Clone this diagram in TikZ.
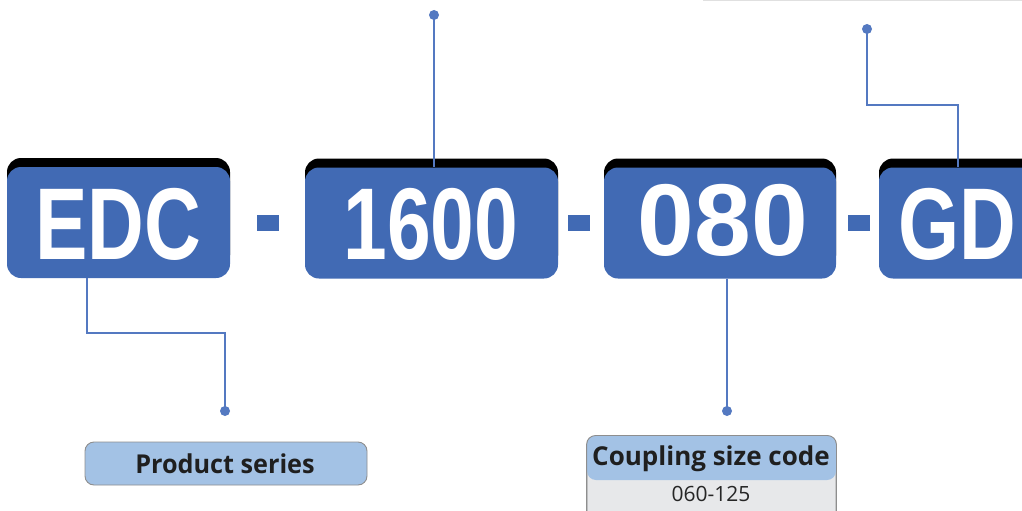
\documentclass[tikz,border=0pt]{standalone}
\usepackage{fontspec}
\usepackage{graphicx}
\setmainfont{Open Sans}
\newfontfamily\bigfont{Liberation Sans Bold}
\usetikzlibrary{shadows}
\definecolor{boxblue}{HTML}{416AB4}
\definecolor{connblue}{HTML}{5479C1}
\definecolor{lblue}{HTML}{A3C2E5}
\definecolor{lgray}{HTML}{E7E8EA}
\definecolor{bordergray}{HTML}{8E8E8E}
\tikzset{
  codebox/.style={rectangle, rounded corners=14pt, fill=boxblue, inner sep=0pt,
    minimum height=111pt, text=white,
    drop shadow={shadow xshift=0pt, shadow yshift=9pt, opacity=1, fill=black}},
  codetext/.style={font=\bigfont\fontsize{102}{102}\selectfont},
  dashbox/.style={rectangle, fill=boxblue, inner sep=0pt, minimum width=22pt, minimum height=16pt},
  conn/.style={draw=connblue, line width=2.4pt},
  dotmark/.style={circle, fill=connblue, inner sep=0pt, minimum size=10pt},
  labelbox/.style={rectangle, rounded corners=9pt, draw=bordergray, line width=0.9pt, inner sep=0pt},
  labeltext/.style={font=\bfseries\fontsize{26}{26}\selectfont, text=black!88},
}
\begin{document}
\begin{tikzpicture}[x=1pt,y=-1pt]
\clip (0,0) rectangle (1022,511);
\fill[white] (0,0) rectangle (1022,511);
% faint top-right line
\draw[draw=black!12, line width=1.5pt] (703,0.5) -- (1022,0.5);
% code boxes
\node[codebox, minimum width=223pt] (EDC) at (118.5,222.5) {};
\node[codetext, text=white] (tEDC) at (118.5,224) {\scalebox{0.77}[1]{EDC}};
\node[codebox, minimum width=253pt] (N1600) at (431.5,223) {};
\node[codetext, text=white] (t1600) at (431,224) {\scalebox{0.77}[1]{1600}};
\node[codebox, minimum width=232pt] (N080) at (720,223) {};
\node[codetext, text=white] (t080) at (723,220) {\scalebox{1.0}[1]{080}};
\node[codebox, minimum width=158pt] (NGD) at (958,223) {};
\node[codetext, text=white] (tGD) at (957,224) {\scalebox{0.77}[1]{GD}};
% dashes
\node[dashbox] (s1) at (268,223) {};
\node[dashbox] (s2) at (579,223) {};
\node[dashbox] (s3) at (859,223) {};
% dots
\node[dotmark] (d1) at (225,411) {};
\node[dotmark] (d2) at (434,15) {};
\node[dotmark] (d3) at (727,411) {};
\node[dotmark] (d4) at (867,29) {};
\coordinate (b1) at (87,333);
\coordinate (b4) at (867,105);
% connectors
\draw[conn] (b1 |- EDC.south) -- (b1) -| (d1.center);
\draw[conn] (d2.center) -- (d2 |- N1600.north);
\draw[conn] (d3 |- N080.south) -- (d3.center);
\draw[conn] (d4.center) -- (b4) -| (NGD.north);
% label boxes
\node[labelbox, fill=lblue, minimum width=282pt, minimum height=43pt] (ps) at (226,463.5) {};
\node[labeltext] (pst) at (225,464) {\scalebox{0.97}[1]{Product series}};
\node[labelbox, fill=lgray, minimum width=249pt, minimum height=100pt, anchor=north] (cs) at (711.5,435.5) {};
\begin{scope}
\clip[rounded corners=9pt] (587,435.5) rectangle (836,540);
\fill[lblue, rounded corners=9pt] (587,435.5) rectangle (836,480);
\end{scope}
\draw[draw=bordergray, line width=0.9pt, rounded corners=9pt] (cs.north west) rectangle (cs.south east);
\node[labeltext] (cst) at (711,459) {\scalebox{1.0}[1]{Coupling size code}};
\node[font=\fontsize{21}{21}\selectfont, text=black!85] (csv) at (711,494) {060-125};
\end{tikzpicture}
\end{document}
